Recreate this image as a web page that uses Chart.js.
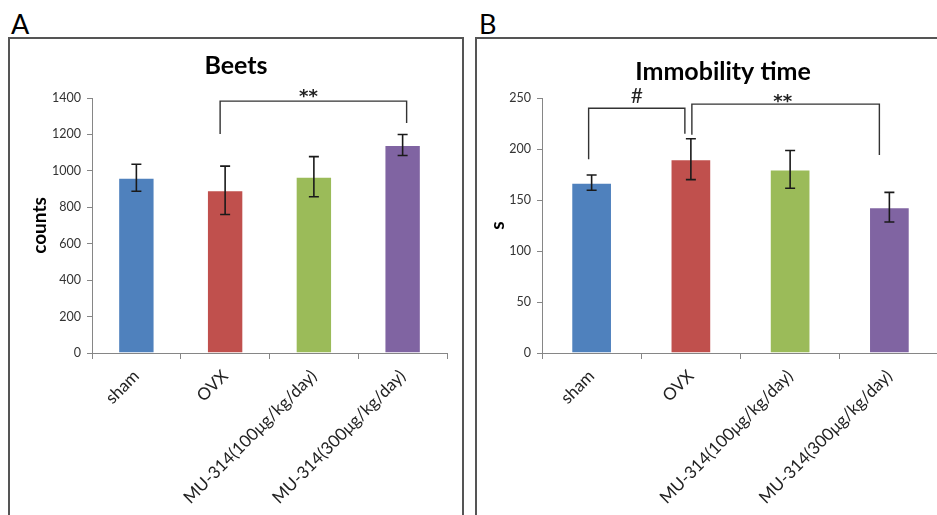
<!DOCTYPE html>
<html><head><meta charset="utf-8">
<script src="https://cdn.jsdelivr.net/npm/chart.js@4"></script>
<style>
html,body{margin:0;padding:0;width:937px;height:515px;overflow:hidden;background:#fff;font-family:Lato,sans-serif;}
.box{position:absolute;border:2px solid #555;box-sizing:border-box;}
#boxA{left:8px;top:37px;width:456px;height:520px;}
#boxB{left:475px;top:37px;width:520px;height:520px;}
.lab{position:absolute;font:27px Lato,sans-serif;color:#000;line-height:1;}
canvas{position:absolute;top:0;}
#cA{left:0;}
#cB{left:470px;}
</style></head>
<body>
<div class="box" id="boxA"></div>
<div class="box" id="boxB"></div>
<div class="lab" style="left:11px;top:10px;">A</div>
<div class="lab" style="left:479px;top:10px;">B</div>
<canvas id="cA" width="470" height="515"></canvas>
<canvas id="cB" width="480" height="515"></canvas>
<script>
const categories = ['sham', 'OVX', 'MU-314(100μg/kg/day)', 'MU-314(300μg/kg/day)'];
const barColors = ['#4F81BD', '#C0504D', '#9BBB59', '#8064A2'];
const beetsMean = [962, 893, 968, 1142];
const beetsErr = [74, 133, 110, 58];
const immobMean = [167, 190, 180, 143];
const immobErr = [7.5, 20, 18.5, 14.5];
const beetsTicks = [0, 200, 400, 600, 800, 1000, 1200, 1400];
const immobTicks = [0, 50, 100, 150, 200, 250];
const beetsBrackets = [{from: 1, to: 3, top: 1383, leftEnd: 1202, rightEnd: 1263, label: '**'}];
const immobBrackets = [
  {from: 0, to: 1, top: 240, leftEnd: 190, rightEnd: 215, label: '#'},
  {from: 1, to: 3, top: 244, leftEnd: 214, rightEnd: 194, label: '**'}
];

const annotPlugin = {
  id: 'annot',
  afterDatasetsDraw(chart, args, opts) {
    const ctx = chart.ctx;
    const meta = chart.getDatasetMeta(0);
    const ys = chart.scales.y;
    ctx.save();
    ctx.strokeStyle = '#1a1a1a';
    ctx.lineWidth = 1.6;
    opts.mean.forEach((m, i) => {
      const x = meta.data[i].x;
      const yt = ys.getPixelForValue(m + opts.err[i]);
      const yb = ys.getPixelForValue(m - opts.err[i]);
      ctx.beginPath();
      ctx.moveTo(x, yt); ctx.lineTo(x, yb);
      ctx.moveTo(x - 5, yt); ctx.lineTo(x + 5, yt);
      ctx.moveTo(x - 5, yb); ctx.lineTo(x + 5, yb);
      ctx.stroke();
    });
    ctx.strokeStyle = '#333';
    ctx.lineWidth = 1.4;
    opts.brackets.forEach((b, k) => {
      const st = opts.bracketStyle[k];
      const x1 = meta.data[b.from].x + st.dx1;
      const x2 = meta.data[b.to].x + st.dx2;
      const yt = ys.getPixelForValue(b.top);
      ctx.beginPath();
      ctx.moveTo(x1, ys.getPixelForValue(b.leftEnd));
      ctx.lineTo(x1, yt);
      ctx.lineTo(x2, yt);
      ctx.lineTo(x2, ys.getPixelForValue(b.rightEnd));
      ctx.stroke();
      ctx.fillStyle = '#222';
      ctx.font = st.font;
      ctx.textAlign = 'center';
      ctx.textBaseline = 'alphabetic';
      ctx.fillText(b.label, (x1 + x2) / 2 + st.tx, yt + st.ty);
    });
    ctx.restore();
  }
};

function makeChart(id, title, titlePad, yTitle, yTitlePad, mean, err, ticks, brackets, bracketStyle, padLeft, yWidth, padRight) {
  return new Chart(document.getElementById(id), {
    type: 'bar',
    data: {
      labels: categories,
      datasets: [{data: mean, backgroundColor: barColors, borderColor: 'rgba(255,255,255,0.5)', borderWidth: 1,
        categoryPercentage: 1, barPercentage: 0.41}]
    },
    plugins: [annotPlugin],
    options: {
      responsive: false,
      animation: false,
      devicePixelRatio: 1,
      layout: {padding: {left: padLeft, top: 0, right: padRight, bottom: 0}},
      plugins: {
        legend: {display: false},
        tooltip: {enabled: false},
        title: {display: true, text: title, color: '#000',
          font: {family: 'Lato', size: 25, weight: 'bold', lineHeight: 1.2},
          padding: titlePad},
        annot: {mean: mean, err: err, brackets: brackets, bracketStyle: bracketStyle}
      },
      scales: {
        x: {
          grid: {display: true, drawOnChartArea: false, drawTicks: true, tickLength: 6, color: '#868686', offset: true},
          border: {display: true, color: '#868686', width: 1},
          ticks: {color: '#222', font: {family: 'Lato', size: 17}, minRotation: 45, maxRotation: 45, autoSkip: false, padding: 7},
          afterFit: s => { s.height = 162; }
        },
        y: {
          min: 0, max: ticks[ticks.length - 1],
          afterBuildTicks: s => { s.ticks = ticks.map(v => ({value: v})); },
          grid: {display: true, drawOnChartArea: false, drawTicks: true, tickLength: 5, color: '#868686'},
          border: {display: true, color: '#868686', width: 1},
          ticks: {color: '#333', font: {family: 'Lato', size: 12.5}, padding: 6, callback: v => String(v)},
          title: {display: true, text: yTitle, color: '#000', font: {family: 'Lato', size: 19, weight: 'bold', lineHeight: 1.2}, padding: {top: yTitlePad, bottom: 0}},
          afterFit: s => { s.width = yWidth; }
        }
      }
    }
  });
}

makeChart('cA', 'Beets', {top: 51, bottom: 17}, 'counts', 40 - 25 - 11.4, beetsMean, beetsErr, beetsTicks,
  beetsBrackets, [{dx1: -5, dx2: 4, tx: -5, ty: 1, font: 'bold 18px "DejaVu Sans"'}], 25, 67, 23);
makeChart('cB', 'Immobility time', {top: 57, bottom: 11}, 's', 28 - 37 - 11.4, immobMean, immobErr, immobTicks,
  immobBrackets, [{dx1: -3, dx2: -6, tx: 0, ty: -5, font: '21px Lato'}, {dx1: 1, dx2: -10, tx: -3, ty: 3, font: 'bold 18px "DejaVu Sans"'}], 37, 35, 11);
</script>
</body></html>
